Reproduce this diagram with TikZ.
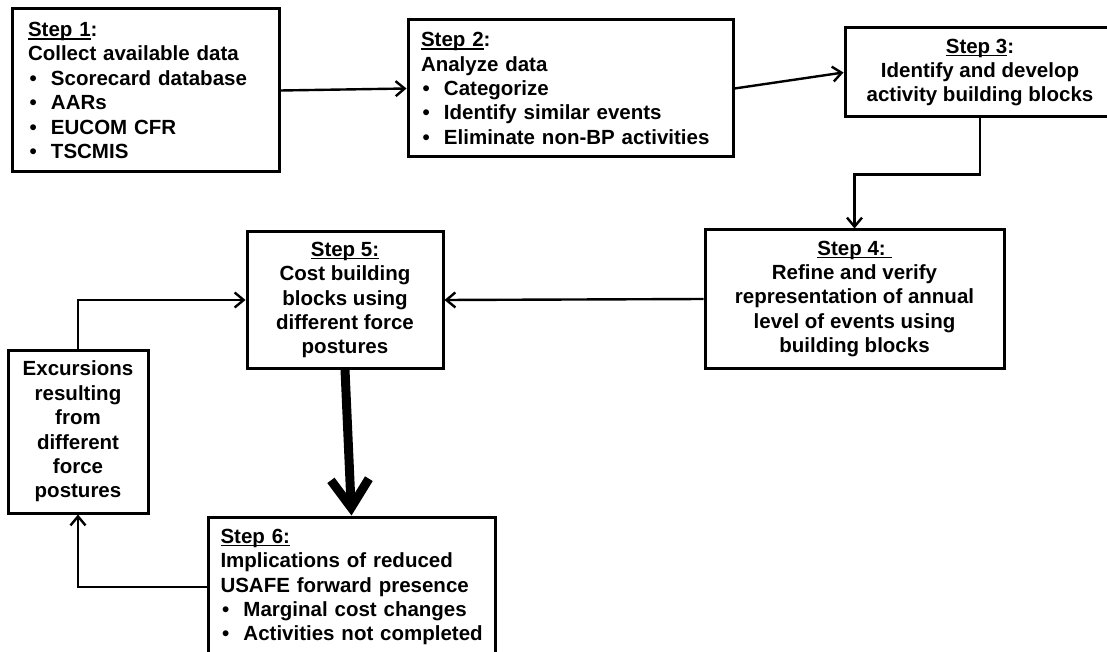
\documentclass[tikz,border=0pt]{standalone}
\usepackage{fontspec}
\setmainfont{Liberation Sans}
\usetikzlibrary{arrows.meta,calc}
\newcommand\stepul[1]{\setbox0\hbox{#1}\rlap{\rule[-3pt]{\wd0}{1.5pt}}\box0}
\newcommand\bul[1]{\mbox{\makebox[23pt][l]{\hspace{1.5pt}\textbullet}#1}}
\begin{document}
\begin{tikzpicture}[x=1pt,y=-1pt,
  stepbox/.style={draw, line width=3pt, inner sep=0pt, font=\bfseries\fontsize{20.5}{24.4}\selectfont},
  conn/.style={line width=2.4pt, -{Straight Barb[length=9pt,width=15pt]}},
  bigarrow/.style={line width=9pt, -{Straight Barb[length=28pt,width=38pt]}}]
\clip (0,0) rectangle (1107,652);
\fill[white] (0,0) rectangle (1107,652);

\node[stepbox, minimum width=267pt, minimum height=163pt, text width=235pt, align=left] (s1) at (145.5,90.5)
  {\stepul{Step 1}:\\Collect available data\\\bul{Scorecard database}\\\bul{AARs}\\\bul{EUCOM CFR}\\\bul{TSCMIS}};

\node[stepbox, minimum width=325pt, minimum height=137pt, text width=299pt, align=left] (s2) at (570.5,88.5)
  {\stepul{Step 2}:\\Analyze data\\\bul{Categorize}\\\bul{Identify similar events}\\\bul{Eliminate non-BP activities}};

\node[stepbox, minimum width=270pt, minimum height=89pt, align=center] (s3) at (980,72.5)
  {\stepul{Step 3}:\\Identify and develop\\activity building blocks};

\node[stepbox, minimum width=299pt, minimum height=138pt, align=center] (s4) at (854.5,299)
  {\stepul{Step 4:\ }\\Refine and verify\\representation of annual\\level of events using\\building blocks};

\node[stepbox, minimum width=196pt, minimum height=136pt, align=center] (s5) at (345,300)
  {\stepul{Step 5:}\\Cost building\\blocks using\\different force\\postures};

\node[stepbox, minimum width=140pt, minimum height=163pt, align=center] (ex) at (78,431.5)
  {Excursions\\resulting\\from\\different\\force\\postures};

\node[stepbox, minimum width=287pt, minimum height=140pt, text width=262pt, align=left] (s6) at (351.5,587)
  {\stepul{Step 6:}\\Implications of reduced\\USAFE forward presence\\\bul{Marginal cost changes}\\\bul{Activities not completed}};

\draw[conn] (s1.east) -- (s2.west);
\draw[conn] (s2.east) -- (s3.west);
\draw[conn] (s3.south) -- ++(0,56) -| (s4.north);
\draw[conn] (s4.west) -- (s5.east);
\draw[conn] (ex.north) |- (s5.west);
\draw[bigarrow] (s5.south) -- (s6.north);
\draw[conn] (s6.west) -| (ex.south);
\end{tikzpicture}
\end{document}
